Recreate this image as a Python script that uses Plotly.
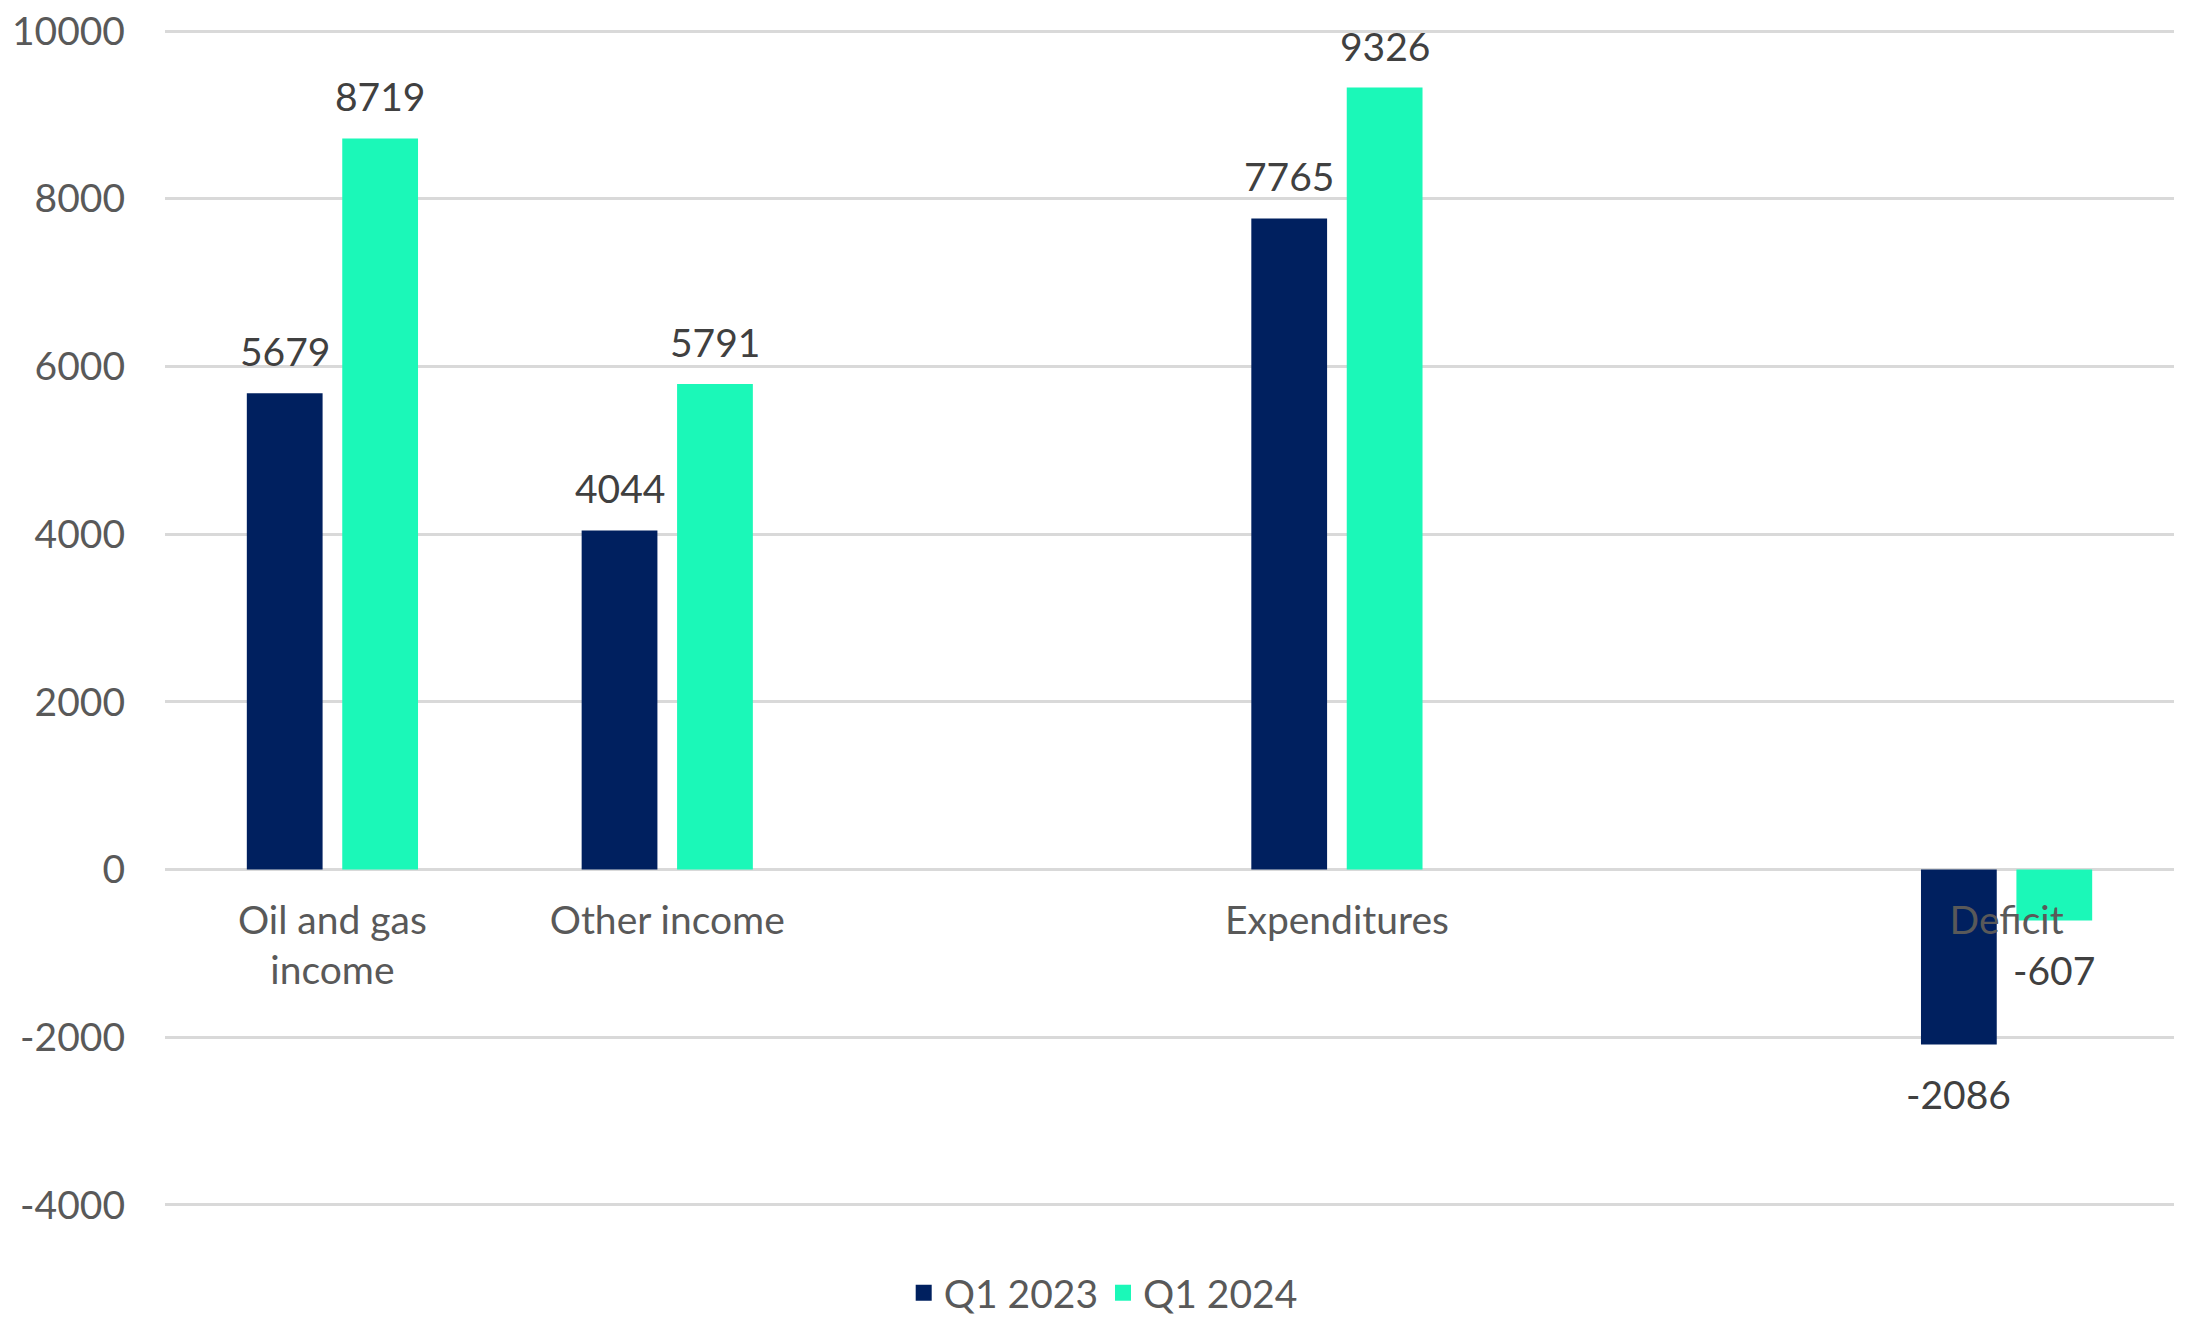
import plotly.graph_objects as go

categories = ["Oil and gas<br>income", "Other income", " ", "Expenditures", "  ", "Deficit"]
q1_2023 = [5679, 4044, None, 7765, None, -2086]
q1_2024 = [8719, 5791, None, 9326, None, -607]
series_names = ["Q1 2023", "Q1 2024"]
series_colors = ["#00205F", "#1BF8B8"]
y_ticks = [-4000, -2000, 0, 2000, 4000, 6000, 8000, 10000]
y_tick_labels = ["-4000", "-2000", "0", "2000", "4000", "6000", "8000", "10000"]

FONT = "Lato"
FS = 39
W, H = 2196, 1337
ml, mr, mt, mb = 157, 30, 18, 135
bargap = 0.43

fig = go.Figure()
for name, vals, col in zip(series_names, [q1_2023, q1_2024], series_colors):
    fig.add_trace(go.Bar(x=categories, y=vals, name=name, marker_color=col,
                         marker_line_width=0, hoverinfo="skip", showlegend=False))
    # legend entry with a square swatch
    fig.add_trace(go.Scatter(x=[None], y=[None], mode="markers", name=name,
                             marker=dict(symbol="square", size=20, color=col),
                             hoverinfo="skip", showlegend=True))

# data labels
plot_w = W - ml - mr
cat_w = plot_w / len(categories)
slot = cat_w * (1 - bargap) / 2
for i, vals in enumerate([q1_2023, q1_2024]):
    xs = (-0.5 + i) * slot
    for c, v in zip(categories, vals):
        if v is None:
            continue
        fig.add_annotation(x=c, y=v, xref="x", yref="y", text=str(v), showarrow=False,
                           xshift=xs, yshift=42 if v >= 0 else -50, yanchor="middle",
                           font=dict(family=FONT, size=FS, color="#404040"))

fig.update_layout(
    width=W, height=H,
    margin=dict(l=ml, r=mr, t=mt, b=mb),
    plot_bgcolor="white", paper_bgcolor="white",
    barmode="group", bargap=bargap, bargroupgap=0.206,
    font=dict(family=FONT, size=FS, color="#595959"),
    showlegend=True,
    legend=dict(orientation="h", x=0.467, xanchor="center", y=-0.07, yanchor="middle",
                font=dict(family=FONT, size=FS, color="#595959"), itemclick=False,
                traceorder="normal", itemsizing="trace"),
    xaxis=dict(type="category", categoryorder="array", categoryarray=categories,
               anchor="free", position=4060 / 14120, showline=False, showgrid=False,
               ticks="", ticklabelstandoff=24, automargin=False,
               tickfont=dict(family=FONT, size=FS, color="#595959"),
               layer="above traces"),
    yaxis=dict(range=[-4060, 10060], tickvals=y_ticks, ticktext=y_tick_labels,
               showgrid=True, gridcolor="#D9D9D9",
               gridwidth=3, zeroline=True, zerolinecolor="#D9D9D9", zerolinewidth=3,
               showline=False, ticks="", ticklabelstandoff=39, automargin=False,
               ticklabeloverflow="allow",
               tickfont=dict(family=FONT, size=FS, color="#595959")),
)

fig.write_html("out.html")
